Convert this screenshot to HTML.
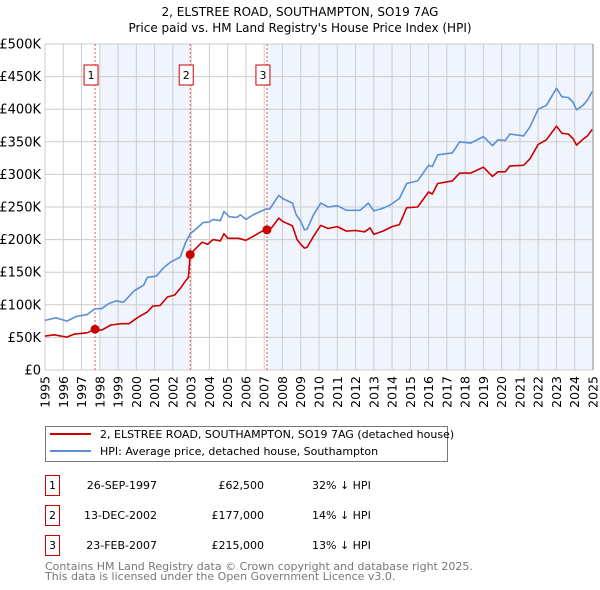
<!DOCTYPE html>
<html><head><meta charset="utf-8"><style>
body{margin:0;background:#fff;}
svg{display:block;font-family:"DejaVu Sans","Liberation Sans",sans-serif;}
</style></head><body>
<svg id="c" width="600" height="590" xmlns="http://www.w3.org/2000/svg">
<text x="300" y="16" text-anchor="middle" font-size="12">2, ELSTREE ROAD, SOUTHAMPTON, SO19 7AG</text>
<text x="300" y="32" text-anchor="middle" font-size="12">Price paid vs. HM Land Registry's House Price Index (HPI)</text>
<g id="shade"></g><g id="grid"></g><g id="axes"></g><g id="vlines"></g><g id="series"></g><g id="marks"></g>
<g>
<rect x="45.5" y="426.5" width="402" height="35" fill="#fff" stroke="#777"/>
<line x1="50" y1="434" x2="91" y2="434" stroke="#cc0000" stroke-width="2"/>
<text x="100" y="438" font-size="11">2, ELSTREE ROAD, SOUTHAMPTON, SO19 7AG (detached house)</text>
<line x1="50" y1="451" x2="91" y2="451" stroke="#5b8fd6" stroke-width="2"/>
<text x="100" y="455" font-size="11">HPI: Average price, detached house, Southampton</text>
</g>
<g id="table" font-size="11"></g>
<text x="45" y="570" font-size="11" fill="#777">Contains HM Land Registry data © Crown copyright and database right 2025.</text>
<text x="45" y="580" font-size="11" fill="#777">This data is licensed under the Open Government Licence v3.0.</text>
</svg>
<script>
const hpiYears=[1995.0,1995.6,1996.2,1996.7,1997.3,1997.74,1998.1,1998.5,1998.9,1999.3,1999.9,2000.4,2000.6,2001.1,2001.5,2001.9,2002.4,2002.7,2002.95,2003.3,2003.65,2004.0,2004.2,2004.6,2004.8,2005.1,2005.5,2005.7,2006.0,2006.4,2007.1,2007.3,2007.8,2008.0,2008.55,2008.75,2009.0,2009.2,2009.35,2009.7,2010.1,2010.5,2011.0,2011.5,2012.25,2012.7,2013.0,2013.5,2013.9,2014.4,2014.8,2015.4,2016.0,2016.2,2016.5,2017.3,2017.7,2018.3,2019.0,2019.5,2019.8,2020.2,2020.45,2021.2,2021.55,2022.0,2022.45,2023.0,2023.3,2023.65,2023.9,2024.1,2024.45,2024.7,2024.95];
const hpiValues=[76,80,75,82,85,94,94,102,106,104,122,130,142,144,157,166,173,196,209,217,226,227,231,229,243,235,234,238,231,238,247,247,268,263,256,238,228,215,216,238,256,250,252,245,245,256,244,248,253,263,286,290,314,312,330,333,350,348,358,344,353,352,362,359,373,400,406,432,419,418,411,399,406,414,427];
const paidYears=[1995.0,1995.5,1996.2,1996.6,1997.3,1997.74,1998.1,1998.6,1999.2,1999.6,2000.1,2000.6,2000.9,2001.3,2001.7,2002.1,2002.4,2002.7,2002.85,2002.95,2003.2,2003.6,2003.9,2004.2,2004.6,2004.8,2005.0,2005.6,2006.0,2006.4,2006.9,2007.15,2007.4,2007.8,2008.0,2008.55,2008.8,2009.0,2009.2,2009.35,2009.7,2010.1,2010.5,2011.0,2011.5,2012.0,2012.5,2012.8,2013.0,2013.5,2014.0,2014.4,2014.8,2015.4,2016.0,2016.2,2016.5,2017.3,2017.7,2018.3,2019.0,2019.5,2019.8,2020.2,2020.45,2021.2,2021.55,2022.0,2022.45,2023.0,2023.3,2023.65,2023.9,2024.1,2024.45,2024.7,2024.95];
const paidValues=[52,54,50.5,55,57,62.5,61,69,71,71,81,89,98,99,112,115,125,137,142,177,185,196,193,200,198,209,202,202,199,205,213,215,218,233,228,221,200,193,187,188,205,222,217,220,213,214,212,218,208,213,220,223,249,250,273,270,286,290,302,302,311,297,304,304,313,314,324,346,353,374,363,362,355,345,354,359,369];
const saleYears=[1997.74,2002.95,2007.15];
const saleValues=[62.5,177,215];
const saleDates=["26-SEP-1997","13-DEC-2002","23-FEB-2007"];
const salePrices=["£62,500","£177,000","£215,000"];
const saleDiffs=["32% ↓ HPI","14% ↓ HPI","13% ↓ HPI"];
const yTicks=[0,50,100,150,200,250,300,350,400,450,500];
const yTickLabels=["£0","£50K","£100K","£150K","£200K","£250K","£300K","£350K","£400K","£450K","£500K"];
const xTicks=[1995,1996,1997,1998,1999,2000,2001,2002,2003,2004,2005,2006,2007,2008,2009,2010,2011,2012,2013,2014,2015,2016,2017,2018,2019,2020,2021,2022,2023,2024,2025];

const L=45,R=593,T=44,B=370;
const X=y=>L+(y-1995)/30*(R-L);
const Y=v=>B-v/500*(B-T);
const NS="http://www.w3.org/2000/svg";
function mk(par,tag,attrs){const e=document.createElementNS(NS,tag);for(const k in attrs)e.setAttribute(k,attrs[k]);document.getElementById(par).appendChild(e);return e;}

let s=mk('shade','rect',{x:X(1998.0),y:T,width:X(saleYears[1])-X(1998.0),height:B-T,fill:'#f0f4fd'});


s=mk('shade','rect',{x:X(saleYears[2]),y:T,width:R-X(saleYears[2]),height:B-T,fill:'#f0f4fd'});



yTicks.forEach((v,i)=>{
  const g=mk('grid','line',{x1:L,x2:R,y1:Y(v),y2:Y(v),stroke:'#ccc','stroke-width':1});
  
  
  const t=mk('axes','text',{x:L-4,y:Y(v)+4.5,'text-anchor':'end','font-size':13});
  t.textContent=yTickLabels[i];
  
  
});
xTicks.forEach(yr=>{
  const g=mk('grid','line',{x1:X(yr),x2:X(yr),y1:T,y2:B,stroke:'#ccc','stroke-width':1});
  
  
  const t=mk('axes','text',{x:0,y:0,'font-size':12.5,'text-anchor':'end',transform:`translate(${X(yr)+4.5},${B+6}) rotate(-90)`});
  t.textContent=yr;
  
  
});
saleYears.forEach((yr,i)=>{
  const l=mk('vlines','line',{x1:X(yr),x2:X(yr),y1:T,y2:B,stroke:'#e05555','stroke-width':1,'stroke-dasharray':'2,2'});
  
  
  const b=mk('vlines','rect',{x:X(yr)-11,y:65,width:14,height:20,fill:'#fff',stroke:'#cc0000'});
  
  
  const t=mk('vlines','text',{x:X(yr)-4,y:79,'text-anchor':'middle','font-size':11});
  t.textContent=String(i+1);
  
  
});
function path(xs,vs){return xs.map((x,i)=>(i?'L':'M')+X(x).toFixed(1)+','+Y(vs[i]).toFixed(1)).join('');}
const hp=mk('series','path',{d:path(hpiYears,hpiValues),fill:'none',stroke:'#5b8fd6','stroke-width':1.6,'stroke-linejoin':'round'});


const pp=mk('series','path',{d:path(paidYears,paidValues),fill:'none',stroke:'#cc0000','stroke-width':1.6,'stroke-linejoin':'round'});


saleYears.forEach((yr,i)=>{
  const c=mk('marks','circle',{cx:X(yr),cy:Y(saleValues[i]),r:4.5,fill:'#cc0000'});
  
  
});
const ax=mk('axes','line',{x1:R,x2:R,y1:T,y2:B,stroke:'#888'});



saleDates.forEach((d,i)=>{
  const y0=475+i*30;
  const b=mk('table','rect',{x:45.5,y:y0+0.5,width:14,height:20,fill:'#fff',stroke:'#cc0000'});
  
  
  const n=mk('table','text',{x:52.5,y:y0+14,'text-anchor':'middle'});n.textContent=String(i+1);
  
  
  const t1=mk('table','text',{x:157,y:y0+14,'text-anchor':'end'});t1.textContent=d;
  
  
  const t2=mk('table','text',{x:264,y:y0+14,'text-anchor':'end'});t2.textContent=salePrices[i];
  
  
  const t3=mk('table','text',{x:312,y:y0+14});t3.textContent=saleDiffs[i];
  
  
});
</script>
</body></html>
